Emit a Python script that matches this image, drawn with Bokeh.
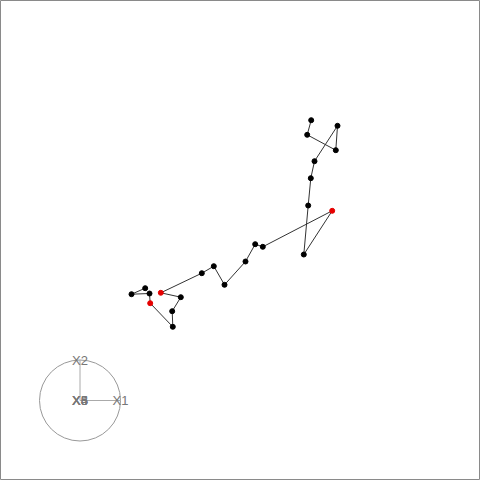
from bokeh.plotting import figure
from bokeh.models import Range1d, ColumnDataSource
from bokeh.core.properties import value
from bokeh.embed import file_html
from bokeh.resources import INLINE

# Projected path points (x right, y up), in drawing order
path_x = [310.7, 306.7, 335.3, 337.0, 314.0, 310.3, 307.7, 303.3, 331.7, 262.3, 254.7, 245.0,
          224.0, 213.3, 201.3, 160.3, 180.3, 171.7, 172.3, 149.7, 149.0, 131.0, 144.7]
path_y = [360.3, 345.7, 330.3, 354.7, 319.3, 302.3, 275.0, 226.0, 269.7, 233.7, 236.3, 219.0,
          195.7, 214.3, 207.3, 187.7, 183.3, 169.3, 153.7, 177.3, 187.0, 186.3, 192.3]
highlight = [False, False, False, False, False, False, False, False, True, False, False, False,
             False, False, False, True, False, False, False, True, False, False, False]

# Axis legend: variable names and projection coefficients
axis_names = ["X1", "X2", "X3", "X4", "X5", "X6"]
axis_px = [1.0, 0.0, 0.0, 0.0, 0.0, 0.0]
axis_py = [0.0, 1.0, 0.0, 0.0, 0.0, 0.0]
axis_center = (79.5, 80.0)
axis_radius = 40.5

p = figure(width=480, height=480, output_backend="svg", toolbar_location=None,
           x_range=Range1d(0, 480), y_range=Range1d(0, 480),
           min_border=0, margin=(0, 0, 0, 0))
p.axis.visible = False
p.grid.visible = False
p.outline_line_color = "#8a8a8a"
p.outline_line_width = 1
p.background_fill_color = "white"
p.border_fill_color = "white"

colors = ["#e60000" if h else "black" for h in highlight]
src = ColumnDataSource(dict(x=path_x, y=path_y, c=colors))
p.line(path_x, path_y, line_color="#333333", line_width=1)
p.scatter("x", "y", source=src, size=5, fill_color="c", line_color="c")

cx, cy = axis_center
p.circle([cx], [cy], radius=axis_radius, fill_color=None, line_color="#999999", line_width=1)
ex = [cx + axis_radius * v for v in axis_px]
ey = [cy + axis_radius * v for v in axis_py]
p.segment([cx] * len(ex), [cy] * len(ey), ex, ey, line_color="#aaaaaa", line_width=1)
p.text(ex, ey, text=axis_names, text_align="center", text_baseline="middle",
       text_font=value("Liberation Sans"), text_font_size="13px", text_color="#777777")

open("out.html", "w").write(file_html(p, INLINE))
